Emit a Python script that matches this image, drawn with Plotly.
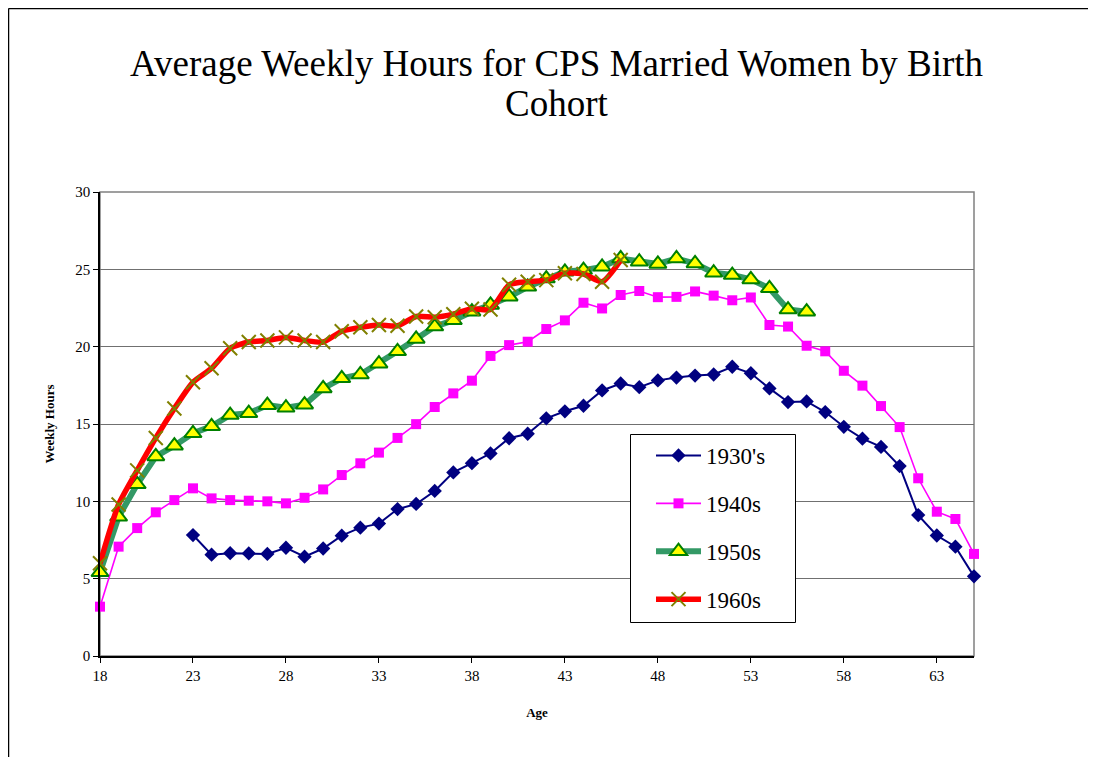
import plotly.graph_objects as go

ages_1930 = list(range(23, 66))
hours_1930 = [7.82, 6.55, 6.65, 6.63, 6.6, 7.0, 6.42, 6.95, 7.78, 8.3, 8.56, 9.5, 9.83,
              10.67, 11.87, 12.47, 13.1, 14.08, 14.37, 15.37, 15.82, 16.18, 17.17, 17.62,
              17.38, 17.82, 18.0, 18.13, 18.2, 18.7, 18.28, 17.3, 16.42, 16.46, 15.77,
              14.82, 14.05, 13.52, 12.28, 9.11, 7.79, 7.07, 5.15]

ages_1940 = list(range(18, 66))
hours_1940 = [3.19, 7.07, 8.27, 9.29, 10.08, 10.84, 10.19, 10.08, 10.04, 10.0, 9.87, 10.23,
              10.77, 11.7, 12.46, 13.15, 14.1, 14.99, 16.1, 16.98, 17.8, 19.4, 20.1, 20.32,
              21.14, 21.7, 22.84, 22.47, 23.34, 23.6, 23.2, 23.22, 23.57, 23.3, 23.0, 23.18,
              21.4, 21.3, 20.06, 19.7, 18.44, 17.48, 16.16, 14.8, 11.49, 9.33, 8.86, 6.6]

ages_1950 = list(range(18, 57))
hours_1950 = [5.41, 9.0, 11.1, 12.9, 13.6, 14.4, 14.85, 15.58, 15.7, 16.22, 16.05, 16.25,
              17.3, 17.95, 18.2, 18.9, 19.7, 20.5, 21.3, 21.7, 22.26, 22.7, 23.23, 23.87,
              24.4, 24.84, 24.95, 25.16, 25.7, 25.49, 25.35, 25.7, 25.38, 24.78, 24.63,
              24.35, 23.77, 22.4, 22.26]

ages_1960 = list(range(18, 47))
hours_1960 = [6.0, 9.8, 12.0, 14.1, 16.0, 17.7, 18.6, 19.9, 20.3, 20.4, 20.6, 20.4, 20.3,
              21.0, 21.25, 21.4, 21.35, 21.95, 21.9, 22.1, 22.45, 22.4, 24.0, 24.2, 24.3,
              24.75, 24.7, 24.2, 25.6]

x_tick_vals = [18, 23, 28, 33, 38, 43, 48, 53, 58, 63]
y_tick_vals = [0, 5, 10, 15, 20, 25, 30]

FONT = "Liberation Serif"

fig = go.Figure()

fig.add_trace(go.Scatter(
    x=ages_1930, y=hours_1930, name="1930's", mode="lines+markers",
    line=dict(color="#000080", width=2),
    marker=dict(symbol="diamond", size=11, color="#000080"),
    cliponaxis=False, legendgroup="a"))

fig.add_trace(go.Scatter(
    x=ages_1940, y=hours_1940, name="1940s", mode="lines+markers",
    line=dict(color="#FF00FF", width=1.6),
    marker=dict(symbol="square", size=10, color="#FF00FF"),
    cliponaxis=False, legendgroup="b"))

fig.add_trace(go.Scatter(
    x=ages_1950, y=hours_1950, name="1950s", mode="lines+markers",
    line=dict(color="#339966", width=6),
    marker=dict(symbol="triangle-up", size=15, color="#FFFF00",
                line=dict(color="#008000", width=2)),
    cliponaxis=False, legendgroup="c"))

fig.add_trace(go.Scatter(
    x=ages_1960, y=hours_1960, name="1960s", mode="lines+markers",
    line=dict(color="#FF0000", width=5.5, shape="spline", smoothing=0.6),
    marker=dict(symbol="x-thin-open", size=14, color="#808000",
                line=dict(color="#808000", width=2)),
    cliponaxis=False, legendgroup="d"))

# page offset (body margin) of 8px
OFF = 8
W, H = 1088, 749
L, R, T, B = 100 - OFF, 974 - OFF, 192 - OFF, 656 - OFF
pw, ph = R - L, B - T

def px_x(p):
    return (p - OFF - L) / pw

def px_y(p):
    return (B - (p - OFF)) / ph

fig.update_layout(
    width=W, height=H,
    margin=dict(l=L, r=W - R, t=T, b=H - B, pad=0),
    paper_bgcolor="white", plot_bgcolor="white",
    font=dict(family=FONT, color="black", size=15),
    showlegend=True,
    legend=dict(
        x=px_x(651), y=px_y(434), xanchor="left", yanchor="top",
        borderwidth=0, bgcolor="rgba(0,0,0,0)",
        font=dict(family=FONT, size=23, color="black"),
        traceorder="grouped", tracegroupgap=15, itemwidth=45,
    ),
    xaxis=dict(
        range=[18, 65], tickvals=x_tick_vals, ticks="outside", ticklen=5,
        tickcolor="black", showline=True, linecolor="black", linewidth=1.5,
        showgrid=False, zeroline=False,
        tickfont=dict(family=FONT, size=15),
        title=dict(text="<b>Age</b>", font=dict(family=FONT, size=13), standoff=25),
    ),
    yaxis=dict(
        range=[0, 30], tickvals=y_tick_vals, ticks="outside", ticklen=5,
        tickcolor="black", showline=True, linecolor="black", linewidth=1.5,
        showgrid=True, gridcolor="#707070", gridwidth=1, zeroline=False,
        tickfont=dict(family=FONT, size=15),
        title=dict(text="<b>Weekly Hours</b>", font=dict(family=FONT, size=13), standoff=18),
    ),
    annotations=[
        dict(text="Average Weekly Hours for CPS Married Women by Birth",
             xref="paper", yref="paper", x=px_x(557), y=px_y(64),
             xanchor="center", yanchor="middle", showarrow=False,
             font=dict(family=FONT, size=37, color="black")),
        dict(text="Cohort",
             xref="paper", yref="paper", x=px_x(557), y=px_y(104),
             xanchor="center", yanchor="middle", showarrow=False,
             font=dict(family=FONT, size=37, color="black")),
    ],
    shapes=[
        dict(type="rect", xref="paper", yref="paper", x0=0, x1=1, y0=0, y1=1,
             line=dict(color="#808080", width=1.5), layer="below"),
        dict(type="rect", xref="paper", yref="paper",
             x0=px_x(630.5), x1=px_x(795.5), y0=px_y(622.5), y1=px_y(434.5),
             line=dict(color="black", width=1), fillcolor="white", layer="above"),
        dict(type="line", xref="paper", yref="paper", x0=px_x(8.5), x1=px_x(1200),
             y0=px_y(8.5), y1=px_y(8.5), line=dict(color="black", width=1.5)),
        dict(type="line", xref="paper", yref="paper", x0=px_x(8.5), x1=px_x(8.5),
             y0=px_y(8.5), y1=px_y(800), line=dict(color="black", width=1.5)),
    ],
)

fig.write_html("out.html")
